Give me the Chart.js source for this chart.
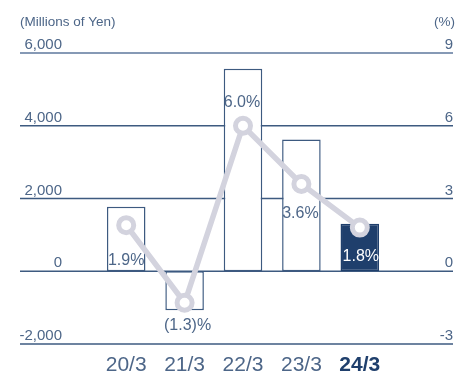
<!DOCTYPE html>
<html>
<head>
<meta charset="utf-8">
<script src="https://cdn.jsdelivr.net/npm/chart.js@4"></script>
<style>
  html, body { margin: 0; padding: 0; background: #ffffff; }
  #wrap { position: relative; width: 457px; height: 371px; }
</style>
</head>
<body>
<div id="wrap"><canvas id="incomeChart" width="457" height="371"></canvas></div>
<script>
const years = ['20/3', '21/3', '22/3', '23/3', '24/3'];
const income = [1770, -1070, 5570, 3620, 1305];     // millions of yen
const margin = [1.9, -1.3, 6.0, 3.6, 1.8];          // %
const marginText = ['1.9%', '(1.3)%', '6.0%', '3.6%', '1.8%'];
const yenTicks = [-2000, 0, 2000, 4000, 6000];
const pctTicks = [-3, 0, 3, 6, 9];

const NAVY = '#3d5a80';
const DARK = '#1f3f6c';
const TEXT = '#4d6688';
const LINE = '#d3d3de';

// label offsets from each point (px)
const labelDx = [0, 3, -1, -1, 1];
const labelDy = [35, 23, -23, 30, 29];

const FONT = 'Arial, "Liberation Sans", sans-serif';

const gridPlugin = {
  id: 'gridPlugin',
  beforeDatasetsDraw(chart) {
    const ctx = chart.ctx;
    const y = chart.scales.y;
    ctx.save();
    yenTicks.forEach((v, i) => {
      const py = y.getPixelForValue(v);
      ctx.beginPath();
      ctx.strokeStyle = v === 6000 ? '#8699b5' : NAVY;
      ctx.lineWidth = v === 6000 ? 2 : 1.4;
      ctx.moveTo(20, py);
      ctx.lineTo(453, py);
      ctx.stroke();

      ctx.fillStyle = TEXT;
      ctx.font = '15px ' + FONT;
      ctx.textBaseline = 'alphabetic';
      ctx.textAlign = 'right';
      ctx.fillText(v.toLocaleString('en-US'), 62, py - 4);
      ctx.fillText(String(pctTicks[i]), 453, py - 4);
    });

    ctx.font = '13.5px ' + FONT;
    ctx.textAlign = 'left';
    ctx.fillText('(Millions of Yen)', 20, 26);
    ctx.textAlign = 'right';
    ctx.fillText('(%)', 455, 26);
    ctx.restore();
  },
  afterDatasetsDraw(chart) {
    const ctx = chart.ctx;
    const pts = chart.getDatasetMeta(1).data;
    ctx.save();
    ctx.font = '16px ' + FONT;
    ctx.textAlign = 'center';
    ctx.textBaseline = 'middle';
    pts.forEach((p, i) => {
      ctx.fillStyle = i === 4 ? '#ffffff' : TEXT;
      ctx.fillText(marginText[i], p.x + labelDx[i], p.y + labelDy[i]);
    });
    ctx.restore();
  }
};

new Chart(document.getElementById('incomeChart'), {
  data: {
    labels: years,
    datasets: [
      {
        type: 'bar',
        label: 'Operating Income',
        data: income,
        yAxisID: 'y',
        order: 2,
        backgroundColor: years.map((_, i) => i === 4 ? DARK : '#ffffff'),
        borderColor: years.map((_, i) => i === 4 ? DARK : NAVY),
        borderWidth: 1.5,
        borderSkipped: false,
        categoryPercentage: 1,
        barPercentage: 0.66
      },
      {
        type: 'line',
        label: 'Operating Margin',
        data: margin,
        yAxisID: 'y1',
        order: 1,
        borderColor: LINE,
        borderWidth: 5.5,
        pointRadius: 7.5,
        pointBorderWidth: 5,
        pointBackgroundColor: '#ffffff',
        pointBorderColor: LINE,
        tension: 0
      }
    ]
  },
  options: {
    responsive: false,
    animation: false,
    devicePixelRatio: 1,
    layout: { padding: { left: 97, right: 68, top: 53, bottom: -16 } },
    plugins: { legend: { display: false }, tooltip: { enabled: false } },
    scales: {
      x: {
        grid: { display: false, drawTicks: false },
        border: { display: false },
        ticks: {
          padding: 11,
          color: (c) => c.index === 4 ? DARK : TEXT,
          font: (c) => ({ family: FONT, size: 21, lineHeight: 1, weight: c.index === 4 ? 'bold' : 'normal' })
        }
      },
      y: { display: false, min: -2000, max: 6000 },
      y1: { display: false, min: -3, max: 9 }
    }
  },
  plugins: [gridPlugin]
});
</script>
</body>
</html>
